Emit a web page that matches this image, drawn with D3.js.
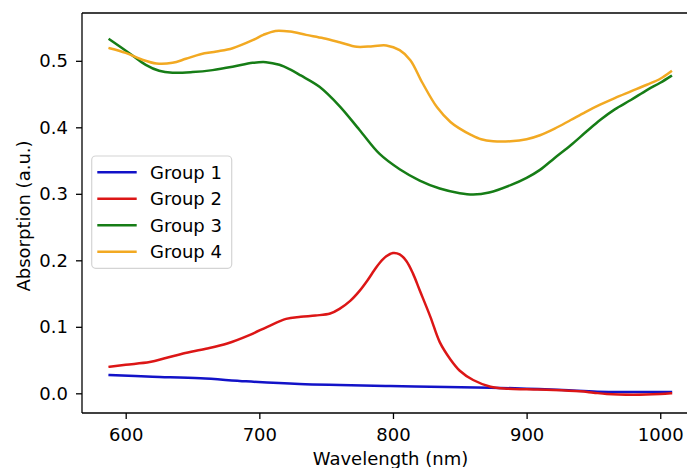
<!DOCTYPE html>
<html>
<head>
<meta charset="utf-8">
<script src="https://cdn.jsdelivr.net/npm/d3@7"></script>
<style>
  html, body { margin: 0; padding: 0; background: #fff; overflow: hidden; }
  svg { display: block; font-family: "DejaVu Sans", sans-serif; }
</style>
</head>
<body>
<svg id="chart" width="687" height="468"></svg>
<script>
// ---- data ----
const seriesNames = ["Group 1", "Group 2", "Group 3", "Group 4"];
const seriesColors = ["#1212c8", "#dc1616", "#167d16", "#f2a922"];

const g1Wl  = [588, 620, 656, 690, 730, 760, 798, 840, 873, 900, 927, 953, 980, 1008];
const g1Val = [0.0275, 0.025, 0.0225, 0.018, 0.014, 0.0125, 0.011, 0.0095, 0.0085, 0.007, 0.005, 0.0025, 0.002, 0.002];

const g2Wl  = [588, 600, 618, 630, 643, 660, 676, 693, 706, 720, 731, 742, 753, 760, 768, 775, 781, 786, 790, 795, 800, 805, 810, 815, 820, 828, 835, 843, 850, 860, 873, 885, 900, 920, 940, 950, 960, 980, 1000, 1008];
const g2Val = [0.040, 0.043, 0.047, 0.053, 0.060, 0.067, 0.075, 0.088, 0.100, 0.112, 0.115, 0.117, 0.120, 0.127, 0.139, 0.154, 0.170, 0.185, 0.196, 0.206, 0.211, 0.209, 0.199, 0.180, 0.155, 0.115, 0.077, 0.051, 0.034, 0.020, 0.010, 0.007, 0.006, 0.005, 0.003, 0.001, -0.001, -0.002, -0.001, 0.000];

const g3Wl  = [588, 603, 615, 625, 635, 650, 665, 680, 695, 705, 715, 723, 731, 745, 760, 775, 790, 805, 820, 835, 850, 860, 872, 888, 900, 910, 921, 933, 945, 955, 966, 978, 990, 1000, 1008];
const g3Val = [0.532, 0.511, 0.494, 0.485, 0.482, 0.483, 0.486, 0.491, 0.497, 0.498, 0.494, 0.487, 0.478, 0.461, 0.432, 0.396, 0.360, 0.337, 0.320, 0.308, 0.301, 0.299, 0.302, 0.313, 0.324, 0.336, 0.354, 0.373, 0.394, 0.411, 0.427, 0.441, 0.456, 0.467, 0.477];

const g4Wl  = [588, 600, 612, 623, 635, 645, 656, 668, 680, 695, 703, 712, 723, 735, 748, 760, 773, 785, 795, 805, 813, 822, 833, 843, 850, 858, 866, 875, 888, 900, 910, 921, 933, 944, 955, 966, 978, 990, 1000, 1008];
const g4Val = [0.519, 0.512, 0.502, 0.496, 0.497, 0.503, 0.510, 0.514, 0.519, 0.531, 0.539, 0.545, 0.544, 0.539, 0.534, 0.528, 0.521, 0.522, 0.523, 0.516, 0.501, 0.467, 0.430, 0.408, 0.398, 0.389, 0.382, 0.379, 0.379, 0.382, 0.388, 0.398, 0.411, 0.423, 0.434, 0.444, 0.454, 0.464, 0.473, 0.484];

const xTicks = [600, 700, 800, 900, 1000];
const yTicks = [0.0, 0.1, 0.2, 0.3, 0.4, 0.5];
const xLabel = "Wavelength (nm)";
const yLabel = "Absorption (a.u.)";

// ---- layout ----
const svg = d3.select("#chart");
const plot = { left: 82, top: 13, right: 699, bottom: 413 };
const FS = 18;

const x = d3.scaleLinear().domain([567.3, 1029]).range([plot.left, plot.right]);
const y = d3.scaleLinear().domain([-0.0296, 0.5719]).range([plot.bottom, plot.top]);

const series = [
  { name: seriesNames[0], color: seriesColors[0], wl: g1Wl, v: g1Val },
  { name: seriesNames[1], color: seriesColors[1], wl: g2Wl, v: g2Val },
  { name: seriesNames[2], color: seriesColors[2], wl: g3Wl, v: g3Val },
  { name: seriesNames[3], color: seriesColors[3], wl: g4Wl, v: g4Val }
];

svg.append("defs").append("clipPath").attr("id", "clip")
  .append("rect")
  .attr("x", plot.left).attr("y", plot.top)
  .attr("width", plot.right - plot.left).attr("height", plot.bottom - plot.top);

const line = d3.line()
  .x(d => x(d[0])).y(d => y(d[1]))
  .curve(d3.curveCatmullRom.alpha(0.5));

const g = svg.append("g").attr("clip-path", "url(#clip)");
series.forEach(s => {
  g.append("path")
    .datum(s.wl.map((w, i) => [w, s.v[i]]))
    .attr("fill", "none")
    .attr("stroke", s.color)
    .attr("stroke-width", 2.5)
    .attr("stroke-linejoin", "round")
    .attr("stroke-linecap", "square")
    .attr("d", line);
});

// axes
const xAxis = d3.axisBottom(x).tickValues(xTicks).tickFormat(d3.format("d"))
  .tickSize(6).tickPadding(9).tickSizeOuter(0);
const yAxis = d3.axisLeft(y).tickValues(yTicks).tickFormat(d3.format(".1f"))
  .tickSize(6).tickPadding(8).tickSizeOuter(0);

const gx = svg.append("g").attr("transform", `translate(0,${plot.bottom})`).call(xAxis);
const gy = svg.append("g").attr("transform", `translate(${plot.left},0)`).call(yAxis);
[gx, gy].forEach(ax => {
  ax.select(".domain").remove();
  ax.selectAll(".tick line").attr("stroke", "#000").attr("stroke-width", 1.3);
  ax.selectAll(".tick text").attr("fill", "#000")
    .style("font-size", FS + "px").style("font-family", "DejaVu Sans, sans-serif");
});

// spines (left, top, bottom; the right spine lies beyond the cropped edge)
const spines = [
  [plot.left, plot.top, plot.left, plot.bottom],
  [plot.left, plot.top, 687, plot.top],
  [plot.left, plot.bottom, 687, plot.bottom]
];
spines.forEach(sp => {
  svg.append("line")
    .attr("x1", sp[0]).attr("y1", sp[1]).attr("x2", sp[2]).attr("y2", sp[3])
    .attr("stroke", "#000").attr("stroke-width", 1.3);
});

// axis labels
svg.append("text")
  .attr("x", 390.5).attr("y", 465)
  .attr("text-anchor", "middle")
  .style("font-size", FS + "px")
  .attr("fill", "#000")
  .text(xLabel);

svg.append("text")
  .attr("transform", "translate(30,216) rotate(-90)")
  .attr("text-anchor", "middle")
  .style("font-size", FS + "px")
  .attr("fill", "#000")
  .text(yLabel);

// legend
const leg = svg.append("g");
leg.append("rect")
  .attr("x", 91.7).attr("y", 156)
  .attr("width", 140).attr("height", 112.3)
  .attr("rx", 4).attr("ry", 4)
  .attr("fill", "#fff").attr("fill-opacity", 0.8)
  .attr("stroke", "#d4d4d4").attr("stroke-width", 1.2);

series.forEach((s, i) => {
  const yy = 172.3 + i * 26.5;
  leg.append("line")
    .attr("x1", 97.3).attr("x2", 136.7)
    .attr("y1", yy).attr("y2", yy)
    .attr("stroke", s.color).attr("stroke-width", 2.5);
  leg.append("text")
    .attr("x", 150).attr("y", yy)
    .attr("dy", "0.36em")
    .style("font-size", FS + "px")
    .attr("fill", "#000")
    .text(s.name);
});
</script>
</body>
</html>
